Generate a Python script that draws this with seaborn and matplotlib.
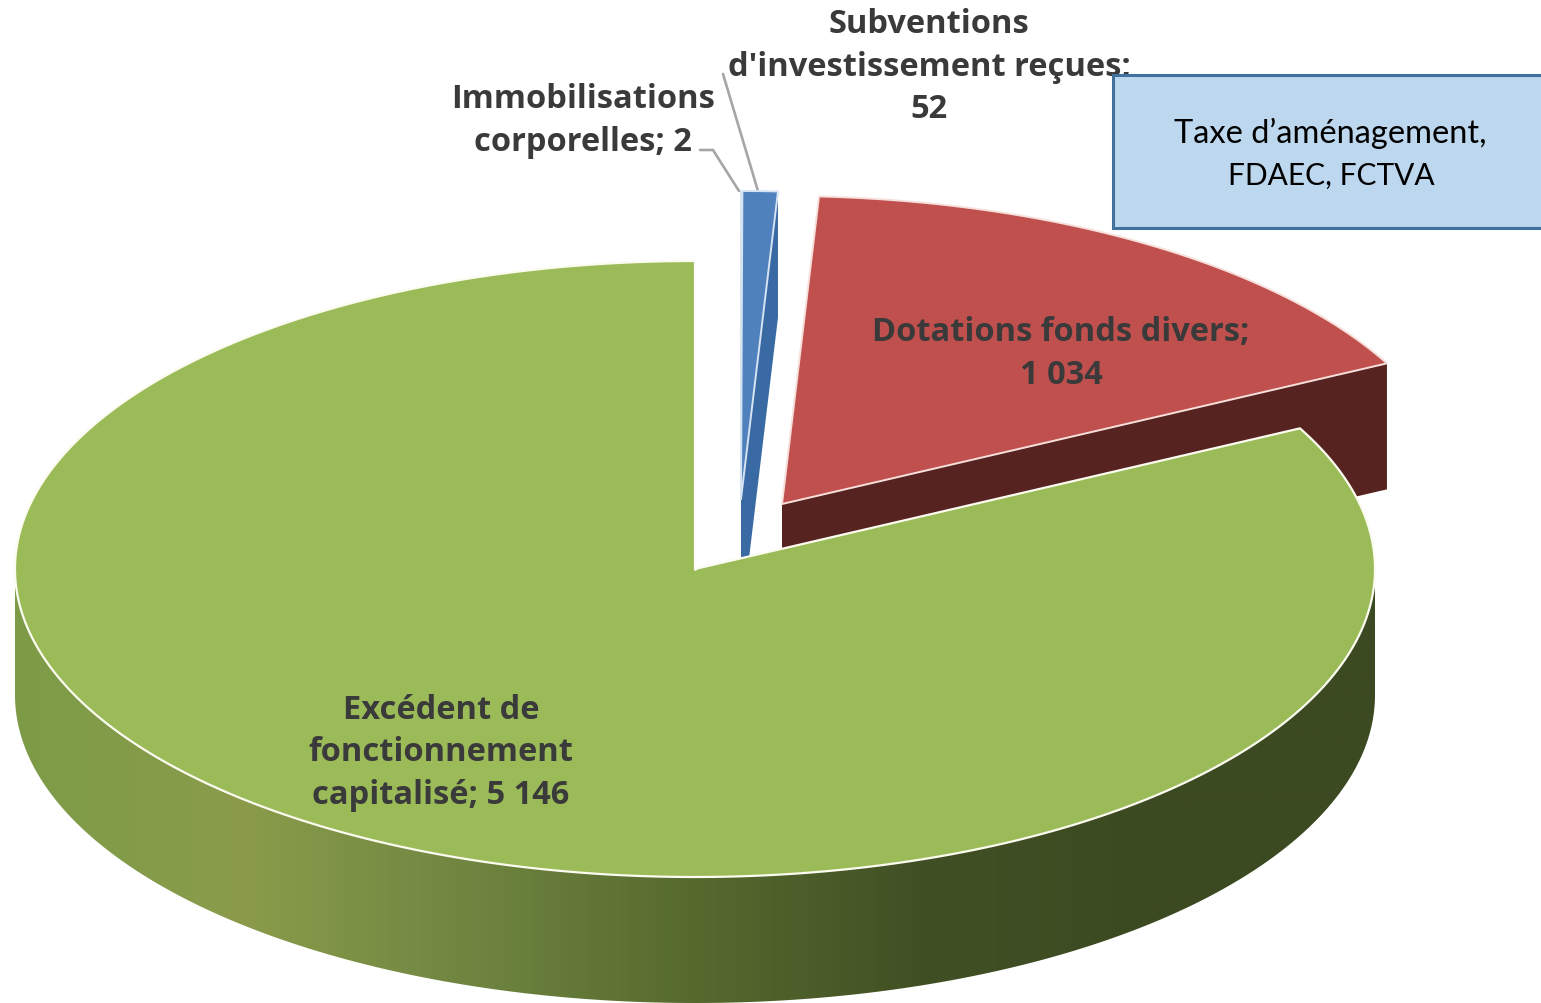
import numpy as np
import matplotlib
matplotlib.use("Agg")
import matplotlib.pyplot as plt
from matplotlib.patches import Polygon, Rectangle
import seaborn as sns

slice_names = ["Immobilisations corporelles", "Subventions d'investissement reçues",
               "Dotations fonds divers", "Excédent de fonctionnement capitalisé"]
slice_values = [2, 52, 1034, 5146]
slice_colors = ["#4F81BD", "#4F81BD", "#C0504D", "#9BBB59"]
edge_colors = ["#D5E3F3", "#D5E3F3", "#F7E0DC", "#FBFBF0"]
wall_colors = ["#3A6AA3", "#3A6AA3", "#572320", None]
# how far each slice is pulled out of the pie, in pixels
slice_offsets = [(46, -70), (46, -70), (87, -65), (0, 0)]
green_wall_stops = ["#7D9B47", "#8A9C4B", "#6F8540", "#566A2E", "#415024", "#3C4A22", "#3C4A22"]

CX, CY = 695, 570
RX, RY = 680, 308
DEPTH = 126


def arc(t0, t1, dx=0, dy=0):
    # angles in degrees, clockwise from 12 o'clock, squashed to an ellipse
    t = np.radians(np.linspace(t0, t1, max(int(abs(t1 - t0) * 3), 2)))
    return np.column_stack([CX + dx + RX * np.sin(t), CY + dy - RY * np.cos(t)])


def draw_slice(ax, t0, t1, offset, color, edge, wall):
    dx, dy = offset
    apex = np.array([[CX + dx, CY + dy]])
    if wall is not None:
        end = np.array([CX + dx + RX * np.sin(np.radians(t1)), CY + dy - RY * np.cos(np.radians(t1))])
        face = np.array([end, end + [0, DEPTH], apex[0] + [0, DEPTH], apex[0]])
        ax.add_patch(Polygon(face, fc=wall, ec="none", zorder=2))
    top = np.vstack([apex, arc(t0, t1, dx, dy)])
    ax.add_patch(Polygon(top, fc=color, ec=edge, lw=1.4, zorder=3, joinstyle="round"))


sns.set_theme(style="white")
plt.rcParams["font.family"] = ["Open Sans", "DejaVu Sans"]

fig = plt.figure(figsize=(15.41, 10.04), dpi=100)
ax = fig.add_axes([0, 0, 1, 1])

angles = np.cumsum([0] + slice_values) / sum(slice_values) * 360

# red and blue first, the green slice sits in front of them
for i in [2, 0, 1]:
    draw_slice(ax, angles[i], angles[i + 1], slice_offsets[i], slice_colors[i], edge_colors[i], wall_colors[i])

# green side wall, shaded from left to right
gradient = np.array(sns.blend_palette(green_wall_stops, n_colors=400))[None, :, :]
im = ax.imshow(gradient, extent=(CX - RX, CX + RX, CY + RY + DEPTH, CY - RY),
               aspect="auto", zorder=4, interpolation="bilinear")
wall_outline = np.vstack([arc(90, 270), arc(270, 90, 0, DEPTH)])
clip = Polygon(wall_outline, fc="none", ec="none", transform=ax.transData)
ax.add_patch(clip)
im.set_clip_path(clip)

green_top = np.vstack([[[CX, CY]], arc(angles[3], angles[4])])
ax.add_patch(Polygon(green_top, fc=slice_colors[3], ec=edge_colors[3], lw=1.6, zorder=5, joinstyle="round"))
ax.plot([CX, CX], [CY - RY, CY], color="white", lw=2, zorder=6)

ax.set_xlim(0, 1541)
ax.set_ylim(1004, 0)
ax.axis("off")

# leader lines
ax.plot([723, 758], [75, 192], color="#A6A6A6", lw=1.9, zorder=2)
ax.plot([700, 713, 739], [151, 151, 192], color="#A6A6A6", lw=1.9, zorder=2)

# data labels
label_style = dict(ha="center", va="center", fontsize=23.5, fontweight="bold",
                   color="#3A3A3A", linespacing=1.37, zorder=7)
ax.text(929, 67, "Subventions\nd'investissement reçues;\n52", **label_style)
ax.text(583, 121, "Immobilisations\ncorporelles; 2", **label_style)
ax.text(1061, 354, "Dotations fonds divers;\n1 034", **label_style)
ax.text(441, 753, "Excédent de\nfonctionnement\ncapitalisé; 5 146", **label_style)

# annotation box
ax.add_patch(Rectangle((1113, 76), 440, 153, fc="#BDD7EE", ec="#41719C", lw=2.2, zorder=8))
box_style = dict(ha="center", va="center", color="black", family=["Lato", "DejaVu Sans"], zorder=9)
ax.text(1330, 133, "Taxe d’aménagement,", fontsize=23.5, **box_style)
ax.text(1331, 176, "FDAEC, FCTVA", fontsize=21.5, **box_style)

fig.savefig("out.png", dpi=100)
plt.close(fig)
